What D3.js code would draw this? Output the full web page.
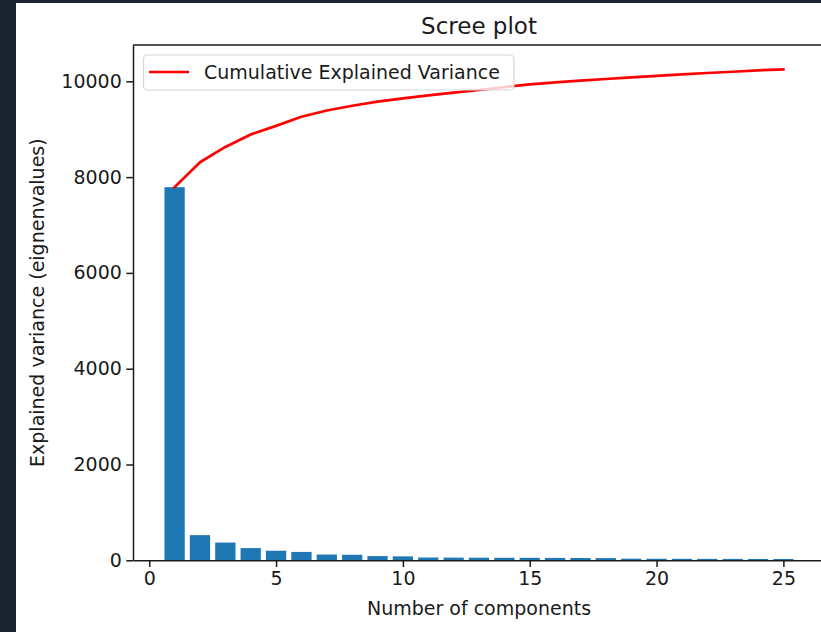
<html>
<meta charset="utf-8" />
<head>
<title>Scree plot</title>
<style>
html, body { margin: 0; overflow: hidden; background: #1b2230; }
svg { display: block; }
svg text {
  font-family: "DejaVu Sans", sans-serif;
  fill: #1a1a1a;
}
</style>
<script src="https://d3js.org/d3.v7.min.js" charset="utf-8"></script>
</head>
<body>
<svg class="chart"></svg>

<script>
var chartWidth = 821;
var chartHeight = 632;

/********
 * Data *
 ********/

var components = [1,2,3,4,5,6,7,8,9,10,11,12,13,14,15,16,17,18,19,20,21,22,23,24,25];

// eigenvalue of each component (bars)
var eigenvalues = [7790, 525, 370, 255, 200, 175, 120, 115, 88, 82,
                   58, 56, 54, 53, 52, 50, 48, 46, 34, 33, 31, 30, 29, 28, 27];

// cumulative explained variance (red line)
var cumulative = [7790, 8310, 8630, 8890, 9070, 9260, 9390, 9490, 9575, 9645,
                  9708, 9763, 9818, 9880, 9935, 9978, 10013, 10048, 10083, 10112,
                  10145, 10173, 10200, 10228, 10250];

var xTicks = [0, 5, 10, 15, 20, 25];
var yTicks = [0, 2000, 4000, 6000, 8000, 10000];

/**********
 * Scales *
 **********/

var x = d3.scaleLinear()
    .domain([-0.64, 26.64])
    .range([133, 825]);

var y = d3.scaleLinear()
    .domain([0, 10758])
    .range([560.3, 45]);

/**************
 * Make Chart *
 **************/

var svg = d3.select(".chart")
    .attr("width", chartWidth)
    .attr("height", chartHeight);

// white figure area
svg.append("rect")
    .attr("x", 16)
    .attr("y", 3)
    .attr("width", chartWidth - 16)
    .attr("height", chartHeight - 3)
    .attr("fill", "white");

// bars
svg.selectAll(".bar")
    .data(components)
  .enter().append("rect")
    .attr("class", "bar")
    .attr("x", function(d){ return x(d - 0.4); })
    .attr("width", function(d){ return x(d + 0.4) - x(d - 0.4); })
    .attr("y", function(d, i){ return y(eigenvalues[i]); })
    .attr("height", function(d, i){ return y(0) - y(eigenvalues[i]); })
    .attr("fill", "#1f77b4");

// cumulative line
var line = d3.line()
    .x(function(d){ return x(d); })
    .y(function(d, i){ return y(cumulative[i]); });

svg.append("path")
    .datum(components)
    .attr("d", line)
    .attr("fill", "none")
    .attr("stroke", "red")
    .attr("stroke-width", 2.7)
    .attr("stroke-linejoin", "round")
    .attr("stroke-linecap", "square");

/********
 * Axes *
 ********/

var xAxis = d3.axisBottom(x)
    .tickValues(xTicks)
    .tickFormat(d3.format("d"))
    .tickSize(6.7)
    .tickPadding(4.5)
    .tickSizeOuter(0);

var yAxis = d3.axisLeft(y)
    .tickValues(yTicks)
    .tickFormat(d3.format("d"))
    .tickSize(6.7)
    .tickPadding(4.5)
    .tickSizeOuter(0);

var xg = svg.append("g")
    .attr("transform", "translate(0," + y(0) + ")")
    .call(xAxis);

var yg = svg.append("g")
    .attr("transform", "translate(" + x.range()[0] + ",0)")
    .call(yAxis);

[xg, yg].forEach(function(g){
  g.selectAll("path, line")
      .attr("stroke", "#1a1a1a")
      .attr("stroke-width", 1.5);
  g.selectAll("text")
      .style("font-size", "19px")
      .attr("fill", "#1a1a1a");
});

// top spine
svg.append("line")
    .attr("x1", x.range()[0])
    .attr("x2", x.range()[1])
    .attr("y1", y.range()[1])
    .attr("y2", y.range()[1])
    .attr("stroke", "#1a1a1a")
    .attr("stroke-width", 1.5);

/**********
 * Labels *
 **********/

svg.append("text")
    .text("Scree plot")
    .attr("x", 479)
    .attr("y", 34)
    .style("font-size", "23px")
    .style("text-anchor", "middle");

svg.append("text")
    .text("Number of components")
    .attr("x", 479)
    .attr("y", 615)
    .style("font-size", "19px")
    .style("text-anchor", "middle");

svg.append("text")
    .text("Explained variance (eignenvalues)")
    .attr("transform", "translate(44," + ((y.range()[0] + y.range()[1]) / 2) + ") rotate(-90)")
    .style("font-size", "19px")
    .style("text-anchor", "middle");

/**********
 * Legend *
 **********/

var legend = svg.append("g")
    .attr("class", "legend");

legend.append("rect")
    .attr("x", 143.5)
    .attr("y", 55)
    .attr("width", 370.5)
    .attr("height", 35)
    .attr("rx", 4)
    .attr("fill", "white")
    .attr("fill-opacity", 0.8)
    .attr("stroke", "#d6d6d6")
    .attr("stroke-width", 1.2);

legend.append("line")
    .attr("x1", 149)
    .attr("x2", 189)
    .attr("y1", 72)
    .attr("y2", 72)
    .attr("stroke", "red")
    .attr("stroke-width", 2.7);

legend.append("text")
    .text("Cumulative Explained Variance")
    .attr("x", 204)
    .attr("y", 79)
    .style("font-size", "19px");
</script>
</body>
</html>
